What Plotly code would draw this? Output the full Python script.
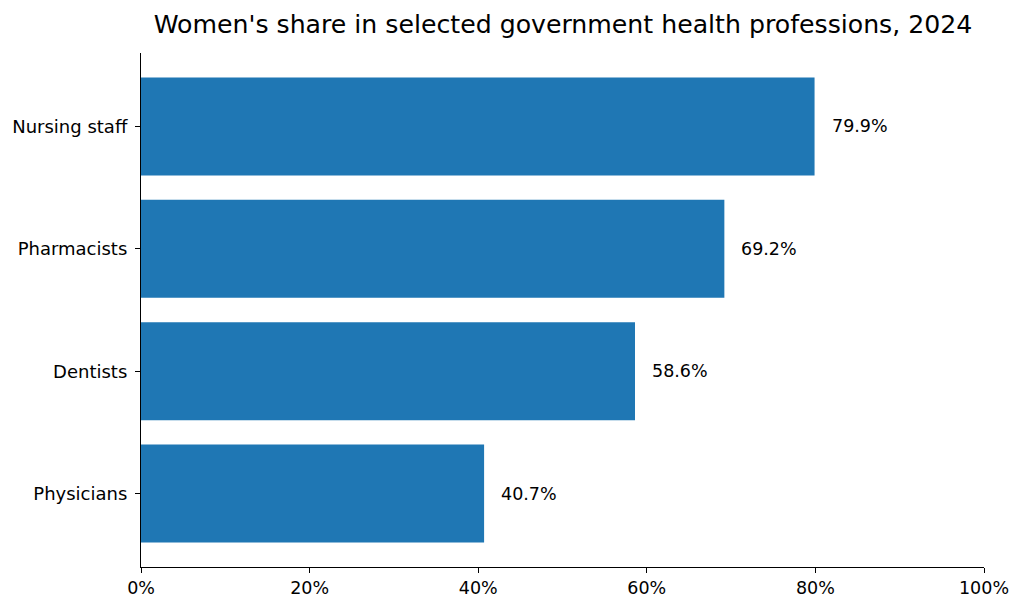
import plotly.graph_objects as go

professions = ["Physicians", "Dentists", "Pharmacists", "Nursing staff"]
women_share = [40.7, 58.6, 69.2, 79.9]
x_ticks = [0, 20, 40, 60, 80, 100]
x_tick_labels = ["0%", "20%", "40%", "60%", "80%", "100%"]

font = "DejaVu Sans"

trace = go.Bar(
    x=women_share,
    y=professions,
    orientation="h",
    width=0.8,
    marker=dict(color="#1f77b4", line=dict(width=0)),
    hoverinfo="x+y",
)

labels = [
    dict(
        x=v, y=p, text=f"{v:.1f}%", showarrow=False,
        xanchor="left", xshift=15, font=dict(family=font, size=17.5, color="black"),
    )
    for p, v in zip(professions, women_share)
]

# page body adds an 8px offset, so margins are shifted accordingly
layout = go.Layout(
    title=dict(
        text="Women's share in selected government health professions, 2024",
        x=(563 - 8) / 1023, xanchor="center", y=1 - 16 / 608, yanchor="middle",
        font=dict(family=font, size=25.2, color="black"),
    ),
    width=1023,
    height=608,
    margin=dict(l=133, r=47, t=45, b=49, autoexpand=False),
    plot_bgcolor="white",
    paper_bgcolor="white",
    showlegend=False,
    annotations=labels,
    xaxis=dict(
        range=[0, 100], tickvals=x_ticks, ticktext=x_tick_labels, automargin=False,
        showgrid=False, zeroline=False, showline=True, linecolor="black", linewidth=1.2,
        ticks="outside", ticklen=5, tickcolor="black", ticklabelstandoff=0,
        tickfont=dict(family=font, size=17.5, color="black"),
    ),
    yaxis=dict(
        range=[-0.6, 3.6], showgrid=False, zeroline=False, showline=True, automargin=False,
        linecolor="black", linewidth=1.2, ticks="outside", ticklen=5, tickcolor="black",
        ticklabelstandoff=4,
        tickfont=dict(family=font, size=18, color="black"),
    ),
)

fig = go.Figure([trace], layout)
fig.write_html("out.html")
